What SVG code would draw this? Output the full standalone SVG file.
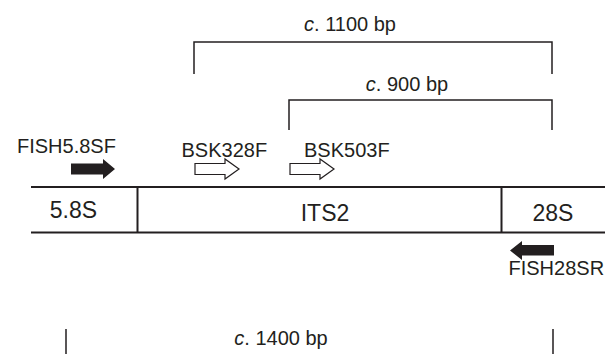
<svg xmlns="http://www.w3.org/2000/svg" width="605" height="354" viewBox="0 0 605 354">
<style>
text{font-family:"Liberation Sans",Arial,sans-serif;fill:#231f20}
.lbl{font-size:20px}
.seg{font-size:23px;text-anchor:middle}
.sz{font-size:20px;text-anchor:middle}
.ln{stroke:#231f20;stroke-width:2;fill:none}
.br{stroke:#231f20;stroke-width:1.5;fill:none}
.solid{fill:#231f20;stroke:none}
.hollow{fill:#fff;stroke:#231f20;stroke-width:1.2}
</style>
<rect width="605" height="354" fill="#fff"/>
<g id="connectors">
<path class="br" d="M194,74V42H552V74"/>
<path class="br" d="M289,130V100H552V130"/>
<path class="br" d="M66,329V354M553,329V354"/>
</g>
<g id="sizes">
<text class="sz" x="350" y="30.5"><tspan font-style="italic">c</tspan>. 1100 bp</text>
<text class="sz" x="407" y="90.5"><tspan font-style="italic">c</tspan>. 900 bp</text>
<text class="sz" x="281" y="345"><tspan font-style="italic">c</tspan>. 1400 bp</text>
</g>
<g id="gene">
<path class="ln" d="M31,187H605M31,232.5H605M137.5,187V232.5M501.5,187V232.5"/>
</g>
<g id="n58S"><text class="seg" x="73.5" y="218">5.8S</text></g>
<g id="nITS2"><text class="seg" x="325" y="221">ITS2</text></g>
<g id="n28S"><text class="seg" x="553" y="221">28S</text></g>
<g id="FISH58SF">
<text class="lbl" x="17" y="153">FISH5.8SF</text>
<path class="solid" d="M71,163.5H103V159L115,169L103,179V174.5H71Z"/>
</g>
<g id="BSK328F">
<text class="lbl" x="181.5" y="156.5">BSK328F</text>
<path class="hollow" d="M195,163.5H225V159L239,169L225,179V174.5H195Z"/>
</g>
<g id="BSK503F">
<text class="lbl" x="304" y="156.5">BSK503F</text>
<path class="hollow" d="M290,163.5H320V159L334,169L320,179V174.5H290Z"/>
</g>
<g id="FISH28SR">
<path class="solid" d="M554,245H522V241L510,250.5L522,260V255.5H554Z"/>
<text class="lbl" x="508.5" y="275">FISH28SR</text>
</g>
</svg>
